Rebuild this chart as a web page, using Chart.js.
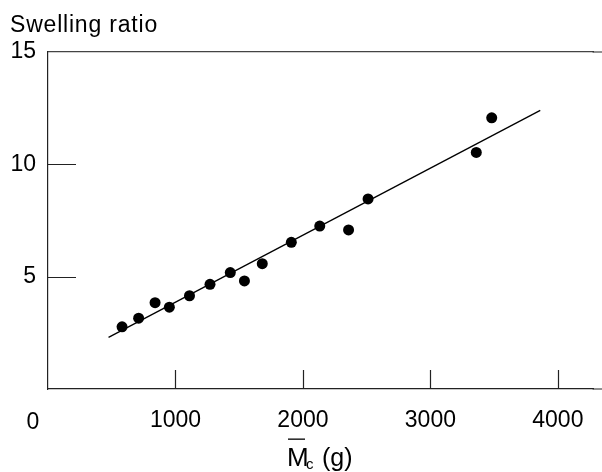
<!DOCTYPE html>
<html>
<head>
<meta charset="utf-8">
<script src="https://cdn.jsdelivr.net/npm/chart.js@4/dist/chart.umd.min.js"></script>
<style>
  html, body { margin: 0; padding: 0; background: #fff; }
  canvas { display: block; }
</style>
</head>
<body>
<canvas id="swellChart" width="602" height="472"></canvas>
<script>
// ===== DATA =====
const mcValues = [581, 711, 840, 952, 1110, 1271, 1430, 1541, 1681, 1909, 2132, 2358, 2511, 3360, 3481];
const swellValues = [2.77, 3.15, 3.84, 3.64, 4.15, 4.66, 5.18, 4.81, 5.58, 6.53, 7.25, 7.08, 8.46, 10.53, 12.07];
const fitX = [475, 3862];
const fitY = [2.30, 12.40];
const xTicks = [1000, 2000, 3000, 4000];
const yTicks = [5, 10];
const yLabels = [5, 10, 15];

const FONT = "'Liberation Sans', Arial, sans-serif";
const AXIS = "#222";

// inward tick marks + titles drawn on the canvas
const decorations = {
  id: "decorations",
  afterDraw(chart) {
    const { ctx, chartArea, scales } = chart;
    ctx.save();
    ctx.strokeStyle = AXIS;
    ctx.lineWidth = 1.2;
    ctx.beginPath();
    yTicks.forEach(v => {
      const y = Math.round(scales.y.getPixelForValue(v)) + 0.5;
      ctx.moveTo(chartArea.left, y);
      ctx.lineTo(chartArea.left + 28, y);
    });
    xTicks.forEach(v => {
      const x = Math.round(scales.x.getPixelForValue(v)) + 0.5;
      ctx.moveTo(x, chartArea.bottom);
      ctx.lineTo(x, chartArea.bottom - 19);
    });
    // top and bottom frame lines carry on to the page edge
    [scales.x2.bottom, scales.x.top].forEach(y => {
      ctx.moveTo(chartArea.right - 1, y);
      ctx.lineTo(chart.width, y);
    });
    ctx.stroke();

    ctx.fillStyle = "#000";
    ctx.textBaseline = "alphabetic";
    ctx.textAlign = "left";

    // y title
    ctx.font = "23px " + FONT;
    ctx.letterSpacing = "0.8px";
    ctx.fillText("Swelling ratio", 10, 32);
    ctx.letterSpacing = "0px";

    // origin label
    ctx.textAlign = "center";
    ctx.fillText("0", 33, 429);

    // x title: M-bar with subscript c
    ctx.textAlign = "left";
    ctx.font = "26px " + FONT;
    ctx.fillText("M", 287, 466);
    ctx.fillRect(288, 438.5, 17, 1.3);
    ctx.font = "15px " + FONT;
    ctx.fillText("c", 306, 469);
    ctx.font = "25px " + FONT;
    ctx.fillText("(g)", 322, 466);
    ctx.restore();
  }
};

new Chart(document.getElementById("swellChart"), {
  data: {
    datasets: [
      {
        type: "scatter",
        data: mcValues.map((x, i) => ({ x, y: swellValues[i] })),
        backgroundColor: "#000",
        borderWidth: 0,
        pointRadius: 5.5
      },
      {
        type: "line",
        data: fitX.map((x, i) => ({ x, y: fitY[i] })),
        borderColor: "#000",
        borderWidth: 1.3,
        pointRadius: 0,
        fill: false
      }
    ]
  },
  options: {
    responsive: false,
    devicePixelRatio: 1,
    animation: false,
    layout: { autoPadding: false, padding: { top: 52, right: -18, left: 0, bottom: 0 } },
    plugins: { legend: { display: false }, tooltip: { enabled: false } },
    scales: {
      x: {
        type: "linear",
        position: "bottom",
        min: 0,
        max: 4280,
        afterFit: s => { s.height = 83; },
        afterBuildTicks: s => { s.ticks = xTicks.map(value => ({ value })); },
        grid: { drawOnChartArea: false, drawTicks: false },
        border: { color: AXIS, width: 1.2 },
        ticks: {
          padding: 18,
          color: "#000",
          font: { family: FONT, size: 23 },
          callback: v => String(v)
        }
      },
      x2: {
        type: "linear",
        position: "top",
        min: 0,
        max: 4280,
        afterFit: s => { s.height = 0; },
        grid: { drawOnChartArea: false, drawTicks: false },
        border: { color: "#444", width: 1.2 },
        ticks: { display: false }
      },
      y: {
        type: "linear",
        min: 0,
        max: 15,
        afterFit: s => { s.width = 48; },
        afterBuildTicks: s => { s.ticks = yLabels.map(value => ({ value })); },
        grid: { drawOnChartArea: false, drawTicks: false },
        border: { color: AXIS, width: 1.2 },
        ticks: {
          padding: 12,
          color: "#000",
          font: { family: FONT, size: 23 },
          callback: v => String(v)
        }
      }
    }
  },
  plugins: [decorations]
});
</script>
</body>
</html>
